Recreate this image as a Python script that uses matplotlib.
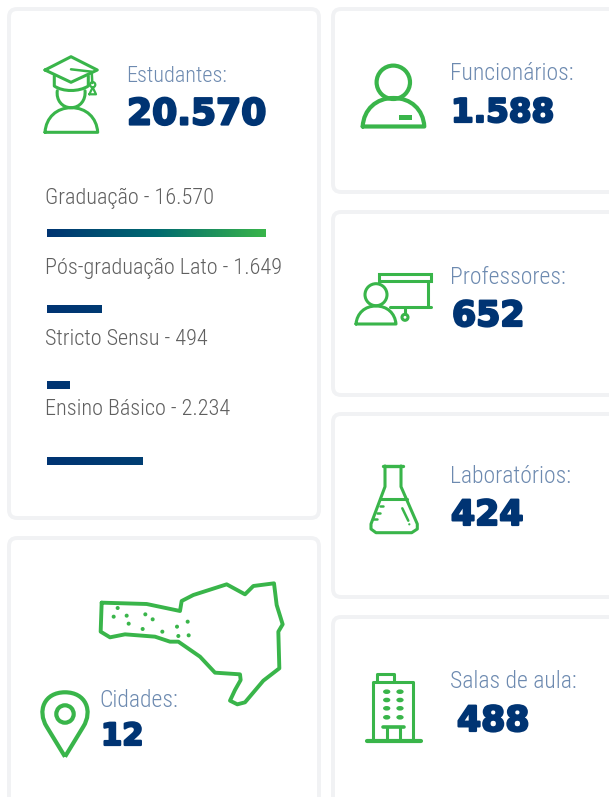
import matplotlib
matplotlib.use('Agg')
import matplotlib.pyplot as plt
import matplotlib.patheffects as pe
from matplotlib.patches import FancyBboxPatch, PathPatch, Circle, Ellipse, Rectangle
from matplotlib.path import Path
from matplotlib.colors import LinearSegmentedColormap
from matplotlib import font_manager
import numpy as np

# dados
cursos = ['Graduação', 'Pós-graduação Lato', 'Stricto Sensu', 'Ensino Básico']
alunos = ['16.570', '1.649', '494', '2.234']
barra_pct = [100, 25, 10.5, 43.5]
indicadores = ['Estudantes:', 'Funcionários:', 'Professores:', 'Laboratórios:', 'Salas de aula:', 'Cidades:']
totais = ['20.570', '1.588', '652', '424', '488', '12']

VERDE = '#39b54a'
AZUL = '#003473'
BORDA = '#f1f2f4'
TITULO = '#6d8ab0'
CINZA = '#5f5f5f'

nomes = {f.name for f in font_manager.fontManager.ttflist}
FONTE_FINA = [n for n in ['Roboto Condensed', 'Liberation Sans Narrow', 'Roboto'] if n in nomes][0]

fig = plt.figure(figsize=(6.09, 7.97), dpi=100)
ax = fig.add_axes([0, 0, 1, 1])
ax.set_xlim(0, 609)
ax.set_ylim(797, 0)
ax.axis('off')


def card(x0, y0, x1, y1):
    ax.add_patch(FancyBboxPatch((x0 + 6, y0 + 6), x1 - x0 - 12, y1 - y0 - 12,
                                boxstyle='round,pad=6,rounding_size=8', fc='white', ec=BORDA, lw=2.8))


def traco(pts, lw=2.2, fechado=False):
    # pts em coordenadas de pixel
    xs = [p[0] for p in pts]
    ys = [p[1] for p in pts]
    if fechado:
        xs.append(xs[0])
        ys.append(ys[0])
    ax.plot(xs, ys, color=VERDE, lw=lw, solid_joinstyle='round', solid_capstyle='round')


def curva(verts, lw=2.2, fechado=False):
    # primeiro ponto + trios de bezier
    cods = [Path.MOVETO] + [Path.CURVE4] * (len(verts) - 1)
    if fechado:
        verts = verts + [verts[0]]
        cods = cods + [Path.LINETO]
    ax.add_patch(PathPatch(Path(verts, cods), fc='none', ec=VERDE, lw=lw, joinstyle='round', capstyle='round'))


def cupula(x0, x1, base, topo, lw=2.2):
    d = (x1 - x0) * 0.28
    meio = (x0 + x1) / 2
    curva([(x0, base), (x0 + 1, base - (base - topo) * 0.6), (meio - d, topo), (meio, topo),
           (meio + d, topo), (x1 - 1, base - (base - topo) * 0.6), (x1, base)], lw=lw, fechado=True)


def circulo(x, y, r, lw=2.2):
    ax.add_patch(Circle((x, y), r, fc='none', ec=VERDE, lw=lw))


# cartoes
card(9, 9, 319, 518)
card(9, 538, 319, 830)
card(333, 9, 640, 192)
card(333, 212, 640, 395)
card(333, 414, 640, 597)
card(333, 617, 640, 830)

# titulos e numeros
pos_titulo = [(126, 82), (450, 80), (450, 284), (450, 483), (450, 688), (99, 707)]
pos_total = [(127, 124.5), (451, 122), (452, 326), (451, 525), (457, 731), (101, 745)]
tam_titulo = [16, 17, 17, 17, 17, 17]
tam_total = [26, 23.5, 25, 25, 25, 22]
for nome, total, pt, pn, tt, tam in zip(indicadores, totais, pos_titulo, pos_total, tam_titulo, tam_total):
    ax.text(pt[0], pt[1], nome, family=FONTE_FINA, fontweight='light', fontsize=tt, color=TITULO,
            va='baseline', ha='left')
    ax.text(pn[0], pn[1], total, family='DejaVu Sans', fontweight='bold', fontsize=tam, color=AZUL,
            va='baseline', ha='left',
            path_effects=[pe.withStroke(linewidth=1.6, foreground=AZUL)])

# textos das barras
base_txt = [204, 274, 345, 415]
for curso, n, y in zip(cursos, alunos, base_txt):
    ax.text(45, y, f'{curso} - {n}', family=FONTE_FINA, fontweight='light', fontsize=16, color=CINZA,
            va='baseline', ha='left')

# barras em eixo proprio, 0-100 %
ax_b = fig.add_axes([47 / 609, 1 - 499 / 797, 219 / 609, 304 / 797])
ax_b.patch.set_alpha(0)
ax_b.axis('off')
grad = LinearSegmentedColormap.from_list('g', ['#003473', '#006a70', VERDE])
barras = ax_b.barh(range(len(cursos)), barra_pct, height=0.105, color='none')
for b, pct in zip(barras, barra_pct):
    # so a barra cheia chega ao verde, as outras ficam quase azul
    fim = 100 if pct == 100 else 450
    im = ax_b.imshow(np.linspace(0, 1, 256).reshape(1, -1), extent=(0, fim, 3.5, -0.5), cmap=grad,
                     aspect='auto', zorder=2)
    im.set_clip_path(b)
ax_b.set_xlim(0, 100)
ax_b.set_ylim(3.5, -0.5)

# icone estudante
traco([(45, 70), (71, 56.7), (97.3, 70), (71, 82.3)], fechado=True)
traco([(71, 69.3), (91.7, 71.7), (92.3, 83)], lw=1.8)
circulo(92.7, 84.7, 2.6, lw=1.6)
traco([(89.3, 94.3), (96, 94.3), (92.7, 87.3)], lw=1.6, fechado=True)
curva([(54.3, 76), (54.3, 82), (54.3, 84), (54.3, 86), (63, 92), (79, 92), (88.3, 86), (88.3, 80), (88.3, 78), (88.3, 76)])
curva([(57.3, 90.7), (56, 100), (62, 107.7), (71, 107.7), (80, 107.7), (86, 100), (85, 90.7)])
cupula(45, 97.7, 132.3, 107.7)

# icone funcionario
circulo(393.3, 82.3, 16.7, lw=3)
cupula(362.7, 424.3, 126.5, 98, lw=3)
ax.add_patch(Rectangle((399, 115), 13, 5, fc=VERDE, ec='none'))

# icone professor
ax.add_patch(Rectangle((379.3, 274), 51.7, 7.3, fc='none', ec=VERDE, lw=2.2))
traco([(428.3, 281), (428.3, 307.3)])
traco([(390, 307.3), (431, 307.3)])
traco([(405, 307.3), (405, 314.3)])
circulo(405, 317.3, 3)
circulo(376, 294.7, 11)
cupula(356, 396, 324, 306)

# icone frasco
traco([(383, 466), (403.3, 466)], lw=2.4)
traco([(385, 466), (385, 486.7), (371, 524), (371, 529), (376, 532.7), (411.7, 532.7), (417.3, 529), (417.3, 524),
       (401, 486.7), (401, 466)])
traco([(380, 499), (407.3, 499)])
traco([(380, 506), (383.3, 506)], lw=1.8)
traco([(376.7, 512.7), (380, 512.7)], lw=1.8)
traco([(373.3, 519.3), (376.7, 519.3)], lw=1.8)
traco([(402.3, 508.3), (408.3, 520.7)], lw=1.8)
ax.add_patch(Circle((409.3, 524.3), 1.1, fc=VERDE, ec='none'))

# icone predio
traco([(376.7, 681.7), (376.7, 674), (394.3, 674), (394.3, 681.7)])
traco([(373.3, 740), (373.3, 682.3), (413.3, 682.3), (413.3, 740)])
traco([(366.7, 741), (420.7, 741)], lw=3)
for yj in [691.7, 700, 708.3, 717.3]:
    for xj in [386.7, 400]:
        ax.add_patch(Ellipse((xj, yj), 7.3, 4.6, fc=VERDE, ec='none'))
traco([(383, 726.7), (403.7, 726.7)], lw=2.6)
traco([(386.7, 726.7), (386.7, 740)])
traco([(400, 726.7), (400, 740)])

# mapa
mapa_x = [305, 440, 540, 545, 580, 680, 735, 760, 822, 830, 848, 835, 838, 790, 735, 712, 690, 705, 722, 720, 645,
          600, 535, 510, 465, 375, 330, 302]
mapa_y = [218, 222, 243, 213, 195, 163, 193, 168, 160, 225, 283, 305, 415, 452, 517, 523, 512, 480, 450, 433, 428,
          380, 335, 335, 320, 313, 322, 305]
traco([(x / 3, 530 + y / 3) for x, y in zip(mapa_x, mapa_y)], lw=2.8, fechado=True)
pontos_x = [353, 341, 380, 386, 436, 458, 428, 487, 531, 563, 535, 566]
pontos_y = [234, 260, 257, 281, 253, 268, 297, 305, 290, 275, 318, 316]
for x, y in zip(pontos_x, pontos_y):
    ax.add_patch(Circle((x / 3, 530 + y / 3), 2, fc=VERDE, ec='none'))

# pino
ax.add_patch(PathPatch(Path(
    [(65, 756.7), (46.7, 726.7), (37, 711), (44, 692.3), (65, 692.3), (86, 692.3), (93, 711), (83.3, 726.7), (65, 756.7)],
    [Path.MOVETO, Path.LINETO, Path.CURVE4, Path.CURVE4, Path.CURVE4, Path.CURVE4, Path.CURVE4, Path.CURVE4, Path.LINETO]),
    fc='none', ec=VERDE, lw=3, joinstyle='round'))
circulo(65, 714, 8.7, lw=3)

fig.savefig('out.png', dpi=100)
